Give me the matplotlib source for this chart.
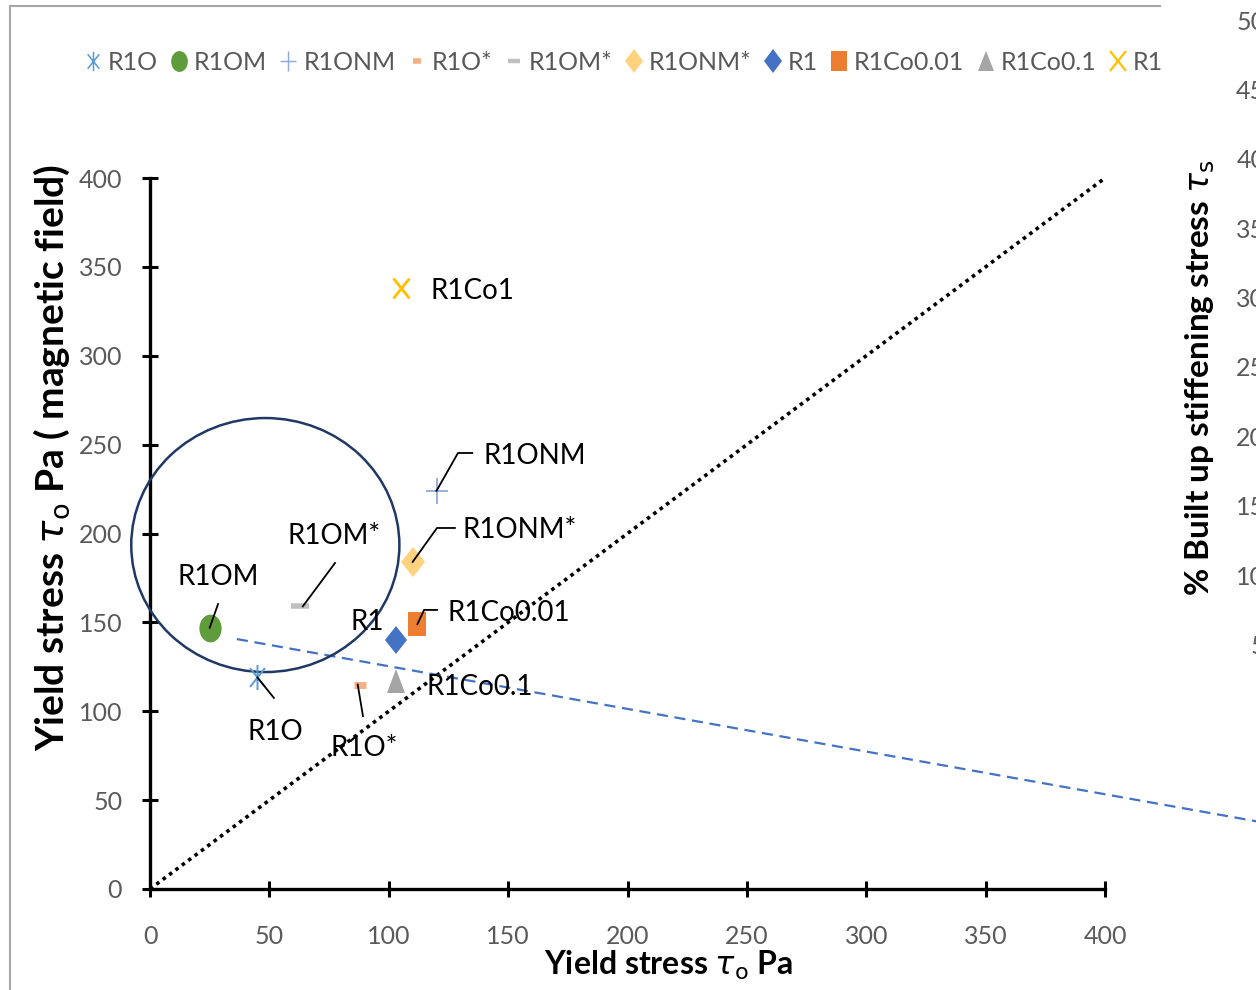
import matplotlib
matplotlib.use("Agg")
import matplotlib.pyplot as plt
from matplotlib.lines import Line2D
from matplotlib.markers import MarkerStyle
from matplotlib.patches import Ellipse, Rectangle
from matplotlib.path import Path
from matplotlib.transforms import Affine2D

plt.rcParams['font.family'] = ['Lato', 'DejaVu Sans']
plt.rcParams['mathtext.fontset'] = 'dejavusans'

# Samples: yield stress without field (x) vs. with magnetic field (y), Pa
names = ['R1O', 'R1OM', 'R1ONM', 'R1O*', 'R1OM*', 'R1ONM*', 'R1', 'R1Co0.01', 'R1Co0.1', 'R1Co1']
tau0 = [45, 25, 120, 88, 63, 110, 103, 112, 103, 105]
tau0_field = [119, 147, 224, 115, 159, 184, 140, 149, 117, 338]

# Reference line y = x
ref_line_x = [0, 400]
ref_line_y = [0, 400]

# Trend of built-up stiffening stress (extends past the plot frame)
trend_x = [36.4, 465]
trend_y = [140.6, 37.7]

x_ticks = [0, 50, 100, 150, 200, 250, 300, 350, 400]
y_ticks = [0, 50, 100, 150, 200, 250, 300, 350, 400]
right_ticks = [5, 10, 15, 20, 25, 30, 35, 40, 45, 50]

# Star marker: vertical bar crossed by an X
star_path = Path([(0, -1), (0, 1), (-0.75, -0.75), (0.75, 0.75), (-0.75, 0.75), (0.75, -0.75)],
                 [Path.MOVETO, Path.LINETO, Path.MOVETO, Path.LINETO, Path.MOVETO, Path.LINETO])

squeeze = Affine2D().scale(0.8, 1.0)


def mk(m):
    return MarkerStyle(m, transform=squeeze)


# Marker styles per sample
styles = {
    'R1O':      dict(marker=star_path, color='#5B9BD5', ms=18, mew=1.4),
    'R1OM':     dict(marker='o', color='#5E9C3C', ms=20, mew=0),
    'R1ONM':    dict(marker='+', color='#8FAADC', ms=19, mew=1.3),
    'R1O*':     dict(marker='_', color='#F4B183', ms=10, mew=5),
    'R1OM*':    dict(marker='_', color='#BFBFBF', ms=17, mew=4),
    'R1ONM*':   dict(marker='D', color='#FFD280', ms=15, mew=0),
    'R1':       dict(marker='D', color='#4472C4', ms=14, mew=0),
    'R1Co0.01': dict(marker='s', color='#ED7D31', ms=17, mew=0),
    'R1Co0.1':  dict(marker='^', color='#A5A5A5', ms=17, mew=0),
    'R1Co1':    dict(marker='x', color='#FFC000', ms=15, mew=2),
}
legend_ms = {'R1O': 14, 'R1OM': 15, 'R1ONM': 15, 'R1O*': 7, 'R1OM*': 11,
             'R1ONM*': 12, 'R1': 12, 'R1Co0.01': 14, 'R1Co0.1': 14, 'R1Co1': 14}

# Data-label layout: text anchor (left, centre) and leader polyline
labels_layout = {
    'R1ONM':    ((139.5, 243.5), [(120, 224), (129, 245.3), (135, 245.3)]),
    'R1ONM*':   ((130.7, 202.1), [(110, 184), (120.2, 203.1), (127.7, 203.1)]),
    'R1Co0.01': ((124.8, 155.4), [(112, 149), (114.8, 157), (120.2, 157)]),
    'R1Co0.1':  ((116.0, 113.8), None),
    'R1':       ((83.8, 150.3), None),
    'R1OM*':    ((57.8, 198.7), [(64, 159), (77.5, 183.4)]),
    'R1OM':     ((11.7, 175.7), [(25, 147), (28.5, 160.3)]),
    'R1O':      ((41.0, 88.5), [(45, 119), (51.9, 107.5)]),
    'R1O*':     ((75.4, 79.5), [(87, 115), (89.2, 97.3)]),
    'R1Co1':    ((117.3, 336.6), None),
}

W, H = 1256, 990
fig = plt.figure(figsize=(W / 100, H / 100), dpi=100)
fig.patch.set_facecolor('white')

ax = fig.add_axes([150 / W, 1 - 889 / H, 955 / W, 711 / H])
ax.set_xlim(0, 400)
ax.set_ylim(0, 400)

for side in ('top', 'right'):
    ax.spines[side].set_visible(False)
for side in ('left', 'bottom'):
    ax.spines[side].set_linewidth(2.4)
    ax.spines[side].set_color('black')

ax.set_xticks(x_ticks)
ax.set_yticks(y_ticks)
ax.tick_params(direction='inout', length=12, width=2.2, color='black',
               labelsize=18, labelcolor='#595959')
ax.tick_params(axis='x', pad=20)
ax.tick_params(axis='y', pad=14)

# y = x reference
ax.plot(ref_line_x, ref_line_y, color='black', lw=2.6, ls=(0, (1, 1.2)), zorder=2)

# stiffening-stress trend
ax.plot(trend_x, trend_y, color='#4472C4', lw=1.6, ls=(0, (5, 3)), clip_on=False, zorder=2)

# highlighted group
ax.add_patch(Ellipse((48.3, 193.5), 112.3, 142.9, fill=False, ec='#1F3864', lw=1.8,
                     clip_on=False, zorder=3))

for n, x, y in zip(names, tau0, tau0_field):
    s = styles[n]
    ax.plot([x], [y], ls='none', marker=mk(s['marker']), ms=s['ms'], mew=s['mew'],
            color=s['color'], mec=s['color'], zorder=4)

for n in names:
    (tx, ty), leader = labels_layout[n]
    if leader is not None:
        lx, ly = zip(*leader)
        ax.plot(lx, ly, color='black', lw=1.3, zorder=5)
    ax.text(tx, ty, n, fontsize=20, color='black', ha='left', va='center', zorder=6)

ax.set_xlabel(r'Yield stress $\tau_\mathrm{o}$ Pa', fontsize=23, fontweight='bold')
ax.xaxis.set_label_coords((668 - 150) / 955, -(965 - 889) / 711)
ax.xaxis.label.set_va('center')
ax.set_ylabel(r'Yield stress $\tau_\mathrm{o}$ Pa ( magnetic field)', fontsize=28,
              fontweight='bold')
ax.yaxis.set_label_coords(-(150 - 52) / 955, (889 - 457) / 711)
ax.yaxis.label.set_va('center')

# legend across the top
handles = []
for n in names:
    s = styles[n]
    handles.append(Line2D([], [], ls='none', marker=mk(s['marker']), ms=legend_ms[n],
                          mew=s['mew'] * 0.8 if s['mew'] else 0,
                          color=s['color'], mec=s['color']))
fig.legend(handles, names, loc='center left', bbox_to_anchor=(84 / W, 1 - 62 / H),
           ncol=10, frameon=False, fontsize=18, labelcolor='#595959',
           handlelength=0.7, handletextpad=0.25, columnspacing=0.5,
           borderaxespad=0, borderpad=0)

# panel frame
fig.add_artist(Line2D([10 / W, 10 / W], [0, 1 - 6 / H], color='#A6A6A6', lw=1.5))
fig.add_artist(Line2D([10 / W, 1160 / W], [1 - 6 / H, 1 - 6 / H], color='#A6A6A6', lw=1.5))
# panel edge: legend runs past it
fig.add_artist(Rectangle((1161 / W, 1 - 110 / H), 100 / W, 110 / H, transform=fig.transFigure,
                         facecolor='white', edgecolor='none', zorder=6))

# neighbouring panel (partially visible)
ax2 = fig.add_axes([1275 / W, 1 - 714 / H, 100 / W, 694 / H])
ax2.set_zorder(10)
ax2.patch.set_visible(False)
for sp in ax2.spines.values():
    sp.set_visible(False)
ax2.set_ylim(0, 50)
ax2.set_xticks([])
ax2.set_yticks(right_ticks)
ax2.tick_params(axis='y', length=0, pad=7, labelsize=18, labelcolor='#595959')
ax2.set_ylabel(r'% Built up stiffening stress $\tau_\mathrm{s}$', fontsize=24,
               fontweight='bold')
ax2.yaxis.set_label_coords(-(1275 - 1200) / 100, (714 - 378) / 694)
ax2.yaxis.label.set_va('center')

fig.savefig('out.png', dpi=100)
